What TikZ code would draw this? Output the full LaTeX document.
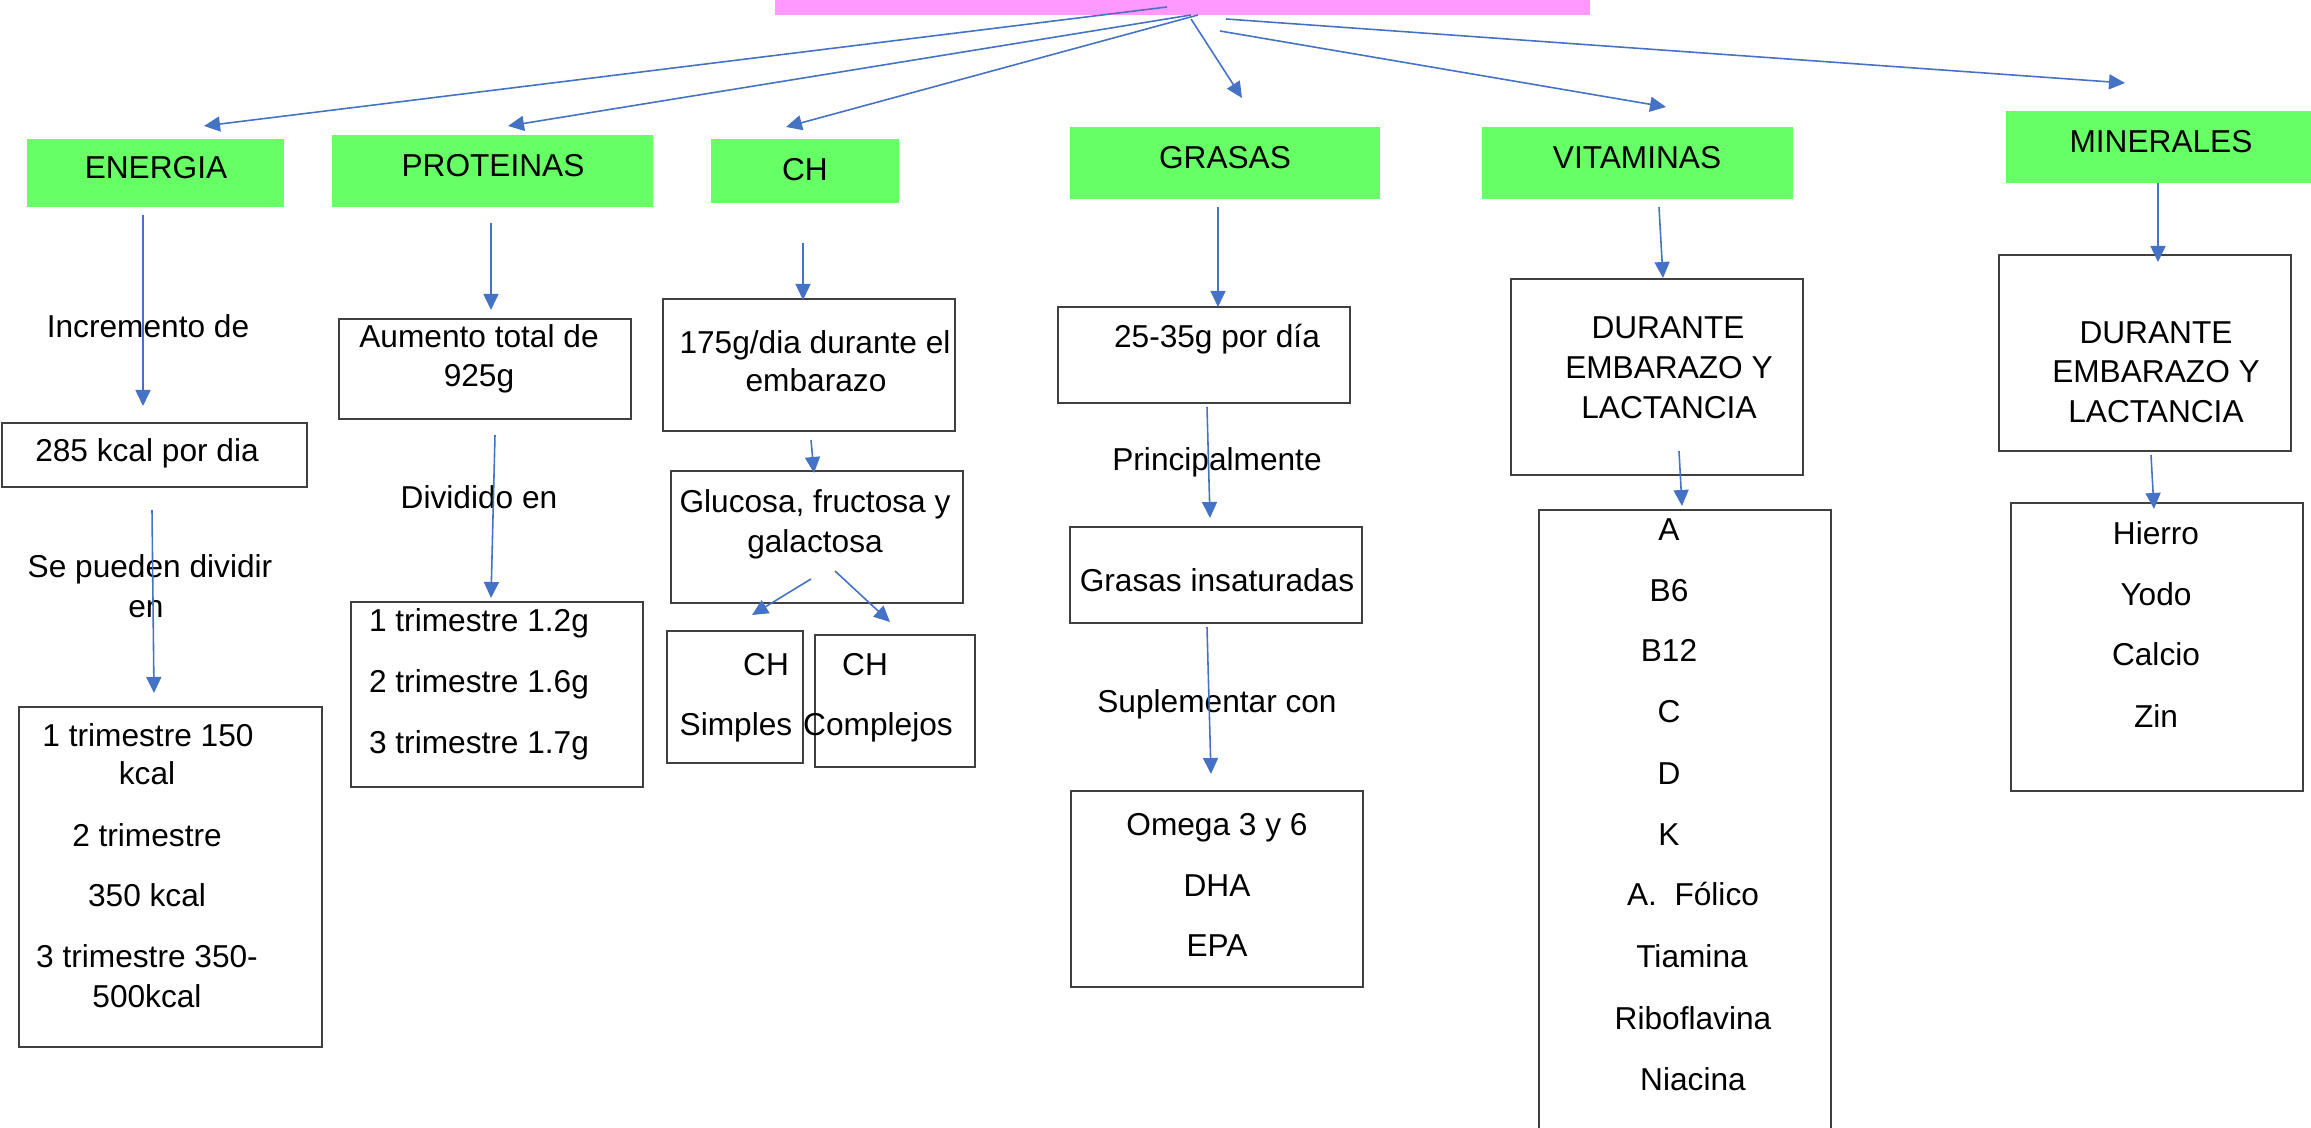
\documentclass[tikz,border=0pt]{standalone}
\usepackage{fontspec}
\setmainfont{Liberation Sans}
\usetikzlibrary{arrows.meta,fit}
\definecolor{rosa}{HTML}{FF99FF}
\definecolor{verde}{HTML}{66FF66}
\definecolor{azul}{HTML}{4472C4}
\definecolor{borde}{HTML}{404040}

\begin{document}
\begin{tikzpicture}[x=0.01cm,y=-0.01cm,
	txt/.style={inner sep=0pt,anchor=base,font=\fontsize{9}{10.8}\selectfont},
	tema/.style={fill=verde,inner sep=0pt},
	caja/.style={draw=borde,line width=0.45pt,inner sep=0pt},
	flecha/.style={draw=azul,line width=0.45pt,-{Triangle[length=1.6mm,width=1.5mm]}}]
	\useasboundingbox (0,0) rectangle (2311,1128);
	\clip (0,0) rectangle (2311,1128);
	% titulo (cortado arriba)
	\node[fill=rosa,inner sep=0pt,fit={(775,-10) (1590,15)}] (titulo) {};
	% temas
	\node[tema,fit={(27,139) (284,207)}] (energia) {};
	\node[tema,fit={(332,135) (653,207)}] (proteinas) {};
	\node[tema,fit={(711,139) (899,203)}] (ch) {};
	\node[tema,fit={(1070,127) (1380,199)}] (grasas) {};
	\node[tema,fit={(1482,127) (1793,199)}] (vitaminas) {};
	\node[tema,fit={(2006,111) (2311,183)}] (minerales) {};
	\node[txt] (t-energia) at (156,179) {ENERGIA};
	\node[txt] (t-proteinas) at (493,177) {PROTEINAS};
	\node[txt] (t-ch) at (805,181) {CH};
	\node[txt] (t-grasas) at (1225,169) {GRASAS};
	\node[txt] (t-vitaminas) at (1637,169) {VITAMINAS};
	\node[txt] (t-minerales) at (2161,153) {MINERALES};
	% cajas
	\node[caja,fit={(2,423) (307,487)}] (kcal) {};
	\node[caja,fit={(19,707) (322,1047)}] (trim-kcal) {};
	\node[caja,fit={(339,319) (631,419)}] (aumento) {};
	\node[caja,fit={(351,602) (643,787)}] (trim-g) {};
	\node[caja,fit={(663,299) (955,431)}] (dia) {};
	\node[caja,fit={(671,471) (963,603)}] (glucosa) {};
	\node[caja,fit={(667,631) (803,763)}] (simples) {};
	\node[caja,fit={(815,635) (975,767)}] (complejos) {};
	\node[caja,fit={(1058,307) (1350,403)}] (porDia) {};
	\node[caja,fit={(1070,527) (1362,623)}] (insat) {};
	\node[caja,fit={(1071,791) (1363,987)}] (omega) {};
	\node[caja,fit={(1511,279) (1803,475)}] (dur-vit) {};
	\node[caja,fit={(1539,510) (1831,1140)}] (lista-vit) {};
	\node[caja,fit={(1999,255) (2291,451)}] (dur-min) {};
	\node[caja,fit={(2011,503) (2303,791)}] (lista-min) {};
	% textos energia
	\node[txt] (incremento) at (148,338) {Incremento de};
	\node[txt] (t-kcal) at (147,462) {285 kcal por dia};
	\node[txt] (dividir1) at (150,578) {Se pueden dividir};
	\node[txt] (dividir2) at (146,618) {en};
	\node[txt] (k1) at (148,747) {1 trimestre 150};
	\node[txt] (k1b) at (147,785) {kcal};
	\node[txt] (k2) at (147,847) {2 trimestre};
	\node[txt] (k2b) at (147,907) {350 kcal};
	\node[txt] (k3) at (147,968) {3 trimestre 350-};
	\node[txt] (k3b) at (147,1008) {500kcal};
	% textos proteinas
	\node[txt] (t-aumento1) at (479,348) {Aumento total de};
	\node[txt] (t-aumento2) at (479,387) {925g};
	\node[txt] (dividido) at (479,509) {Dividido en};
	\node[txt] (g1) at (479,632) {1 trimestre 1.2g};
	\node[txt] (g2) at (479,693) {2 trimestre 1.6g};
	\node[txt] (g3) at (479,754) {3 trimestre 1.7g};
	% textos ch
	\node[txt] (t-dia1) at (815,354) {175g/dia durante el};
	\node[txt] (t-dia2) at (816,392) {embarazo};
	\node[txt] (t-glu1) at (815,513) {Glucosa, fructosa y};
	\node[txt] (t-glu2) at (815,553) {galactosa};
	\node[txt] (t-ch1) at (766,676) {CH};
	\node[txt] (t-simples) at (736,736) {Simples};
	\node[txt] (t-ch2) at (865,676) {CH};
	\node[txt] (t-complejos) at (878,736) {Complejos};
	% textos grasas
	\node[txt] (t-porDia) at (1217,348) {25-35g por día};
	\node[txt] (principal) at (1217,471) {Principalmente};
	\node[txt] (t-insat) at (1217,592) {Grasas insaturadas};
	\node[txt] (suplementar) at (1217,713) {Suplementar con};
	\node[txt] (t-omega) at (1217,836) {Omega 3 y 6};
	\node[txt] (t-dha) at (1217,897) {DHA};
	\node[txt] (t-epa) at (1217,957) {EPA};
	% textos vitaminas
	\node[txt] (v-dur1) at (1668,339) {DURANTE};
	\node[txt] (v-dur2) at (1669,379) {EMBARAZO Y};
	\node[txt] (v-dur3) at (1669,419) {LACTANCIA};
	\node[txt] (v1) at (1669,541) {A};
	\node[txt] (v2) at (1669,602) {B6};
	\node[txt] (v3) at (1669,662) {B12};
	\node[txt] (v4) at (1669,723) {C};
	\node[txt] (v5) at (1669,785) {D};
	\node[txt] (v6) at (1669,846) {K};
	\node[txt] (v7) at (1693,906) {A.\ \ Fólico};
	\node[txt] (v8) at (1692,968) {Tiamina};
	\node[txt] (v9) at (1693,1030) {Riboflavina};
	\node[txt] (v10) at (1693,1091) {Niacina};
	% textos minerales
	\node[txt] (m-dur1) at (2156,344) {DURANTE};
	\node[txt] (m-dur2) at (2156,383) {EMBARAZO Y};
	\node[txt] (m-dur3) at (2156,423) {LACTANCIA};
	\node[txt] (m1) at (2156,545) {Hierro};
	\node[txt] (m2) at (2156,606) {Yodo};
	\node[txt] (m3) at (2156,666) {Calcio};
	\node[txt] (m4) at (2156,728) {Zin};
	% puntos de las flechas
	\coordinate (r1) at (1167,7);
	\coordinate (r2) at (1191,15);
	\coordinate (r3) at (1198,15);
	\coordinate (r4) at (1191,19);
	\coordinate (r5) at (1220,31);
	\coordinate (r6) at (1226,19);
	\coordinate (p1) at (204,126);
	\coordinate (p2) at (508,126);
	\coordinate (p3) at (786,127);
	\coordinate (p4) at (1242,98);
	\coordinate (p5) at (1666,107);
	\coordinate (p6) at (2125,83);
	\coordinate (e1) at (143,215);
	\coordinate (e2) at (143,406);
	\coordinate (e3) at (152,510);
	\coordinate (e4) at (154,693);
	\coordinate (pr1) at (491,223);
	\coordinate (pr2) at (491,310);
	\coordinate (pr3) at (495,435);
	\coordinate (pr4) at (491,598);
	\coordinate (c1) at (803,243);
	\coordinate (c2) at (803,300);
	\coordinate (c3) at (811,440);
	\coordinate (c4) at (814,473);
	\coordinate (c5) at (811,579);
	\coordinate (c6) at (752,615);
	\coordinate (c7) at (835,571);
	\coordinate (c8) at (890,622);
	\coordinate (gr1) at (1218,207);
	\coordinate (gr2) at (1218,307);
	\coordinate (gr3) at (1207,407);
	\coordinate (gr4) at (1210,518);
	\coordinate (gr5) at (1207,627);
	\coordinate (gr6) at (1211,774);
	\coordinate (vi1) at (1659,207);
	\coordinate (vi2) at (1663,278);
	\coordinate (vi3) at (1679,451);
	\coordinate (vi4) at (1682,506);
	\coordinate (mi1) at (2158,183);
	\coordinate (mi2) at (2158,262);
	\coordinate (mi3) at (2151,455);
	\coordinate (mi4) at (2154,509);
	% flechas
	\draw[flecha] (r1) -- (p1);
	\draw[flecha] (r2) -- (p2);
	\draw[flecha] (r3) -- (p3);
	\draw[flecha] (r4) -- (p4);
	\draw[flecha] (r5) -- (p5);
	\draw[flecha] (r6) -- (p6);
	\draw[flecha] (e1) -- (e2);
	\draw[flecha] (e3) -- (e4);
	\draw[flecha] (pr1) -- (pr2);
	\draw[flecha] (pr3) -- (pr4);
	\draw[flecha] (c1) -- (c2);
	\draw[flecha] (c3) -- (c4);
	\draw[flecha] (c5) -- (c6);
	\draw[flecha] (c7) -- (c8);
	\draw[flecha] (gr1) -- (gr2);
	\draw[flecha] (gr3) -- (gr4);
	\draw[flecha] (gr5) -- (gr6);
	\draw[flecha] (vi1) -- (vi2);
	\draw[flecha] (vi3) -- (vi4);
	\draw[flecha] (mi1) -- (mi2);
	\draw[flecha] (mi3) -- (mi4);
\end{tikzpicture}
\end{document}
